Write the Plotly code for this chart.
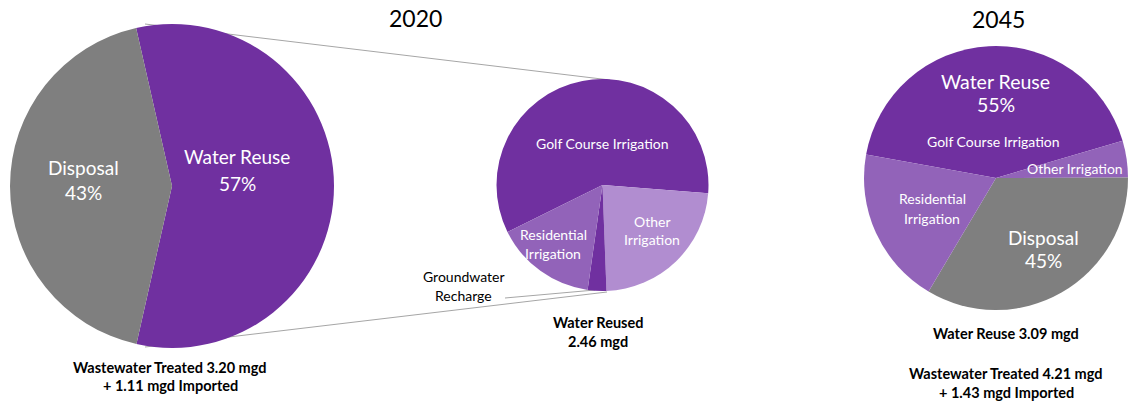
import plotly.graph_objects as go

W, H = 1131, 402

# ---- data ----
total2020_labels = ["Water Reuse", "Disposal"]
total2020_values = [2.46, 1.85]  # mgd

reuse2020_labels = ["Golf Course Irrigation", "Other Irrigation", "Groundwater Recharge", "Residential Irrigation"]
reuse2020_values = [1.44, 0.57, 0.07, 0.38]  # mgd (estimated)

total2045_labels = ["Golf Course Irrigation", "Other Irrigation", "Disposal", "Residential Irrigation"]
total2045_values = [42.6, 4.5, 33.6, 19.3]  # share of drawn pie (estimated)

# ---- styling ----
DARK = "#7030A0"
MID = "#9263B9"
LIGHT = "#B18DD0"
GREY = "#7F7F7F"
FONT = "Lato"


def px(x):
    return x / W


def py(y):
    return 1 - y / H


def dom(cx, cy, r):
    return dict(x=[px(cx - r), px(cx + r)], y=[py(cy + r), py(cy - r)])


fig = go.Figure()

fig.add_trace(go.Pie(
    labels=total2020_labels, values=total2020_values, sort=False,
    direction="clockwise", rotation=-12.8, textinfo="none",
    marker=dict(colors=[DARK, GREY], line=dict(width=0)),
    domain=dom(172, 186, 162), showlegend=False, automargin=False,
))

fig.add_trace(go.Pie(
    labels=reuse2020_labels, values=reuse2020_values, sort=False,
    direction="clockwise", rotation=-116.3, textinfo="none",
    marker=dict(colors=[DARK, LIGHT, DARK, MID], line=dict(width=0)),
    domain=dom(602.5, 185, 106), showlegend=False, automargin=False,
))

fig.add_trace(go.Pie(
    labels=total2045_labels, values=total2045_values, sort=False,
    direction="clockwise", rotation=-79.8, textinfo="none",
    marker=dict(colors=[DARK, MID, GREY, MID], line=dict(width=0)),
    domain=dom(996, 178, 132), showlegend=False, automargin=False,
))

ann = []


def txt(x, y, s, size, color="white", bold=False):
    if bold:
        s = "<b>" + s + "</b>"
    ann.append(dict(x=px(x), y=py(y), xref="paper", yref="paper", text=s,
                    showarrow=False, xanchor="center", yanchor="middle",
                    font=dict(family=FONT, size=size, color=color)))


# titles
txt(415, 18, "2020", 23, "black")
txt(998, 19, "2045", 23, "black")

# left pie
txt(83, 167, "Disposal", 19)
txt(83, 192, "43%", 19)
txt(237, 156, "Water Reuse", 19)
txt(237, 183, "57%", 19)

# middle pie
txt(602, 144, "Golf Course Irrigation", 14)
txt(652, 221, "Other", 14)
txt(652, 240, "Irrigation", 14)
txt(553, 234, "Residential", 14)
txt(553, 253, "Irrigation", 14)
txt(464, 276, "Groundwater", 14, "black")
txt(463, 295, "Recharge", 14, "black")

# right pie
txt(996, 81, "Water Reuse", 19.5)
txt(996, 105, "55%", 19.5)
txt(993, 141, "Golf Course Irrigation", 14)
txt(1075, 169, "Other Irrigation", 14)
txt(932, 198, "Residential", 14)
txt(932, 218, "Irrigation", 14)
txt(1043, 237, "Disposal", 19)
txt(1043, 260, "45%", 19)

# bottom notes
txt(170, 367, "Wastewater Treated 3.20 mgd", 14.5, "black", True)
txt(170, 385, "+ 1.11 mgd Imported", 14.5, "black", True)
txt(598, 322, "Water Reused", 14.5, "black", True)
txt(598, 341, "2.46 mgd", 14.5, "black", True)
txt(1006, 333, "Water Reuse 3.09 mgd", 14.5, "black", True)
txt(1006, 373, "Wastewater Treated 4.21 mgd", 14.5, "black", True)
txt(1006, 392, "+ 1.43 mgd Imported", 14.5, "black", True)

LINE = dict(color="#A6A6A6", width=1)
shapes = [
    dict(type="line", xref="paper", yref="paper", x0=px(145), y0=py(24), x1=px(610), y1=py(80), line=LINE, layer="below"),
    dict(type="line", xref="paper", yref="paper", x0=px(145), y0=py(347), x1=px(607), y1=py(292), line=LINE, layer="below"),
    dict(type="line", xref="paper", yref="paper", x0=px(505), y0=py(298), x1=px(595), y1=py(290), line=LINE, layer="below"),
]

fig.update_layout(
    width=W, height=H, margin=dict(l=0, r=0, t=0, b=0),
    paper_bgcolor="white", plot_bgcolor="white",
    annotations=ann, shapes=shapes, showlegend=False,
)

fig.write_html(
    "out.html",
    config={"displayModeBar": False},
    post_script="document.body.style.margin='0';document.body.style.overflow='hidden';",
)
